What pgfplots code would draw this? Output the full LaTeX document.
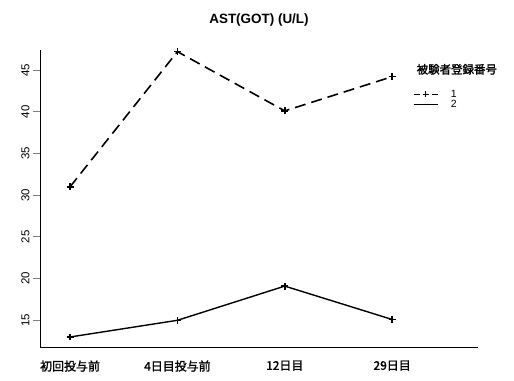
\documentclass[border=0pt]{standalone}
\usepackage{fontspec}
\setmainfont{Liberation Sans}
\newfontfamily\jp{Noto Sans CJK JP}[FakeBold=1.5]
\usepackage{pgfplots}
\pgfplotsset{compat=1.18}

\begin{document}
\begin{tikzpicture}[x=1bp,y=1bp]
\path[use as bounding box] (0,0) rectangle (514,380);
\begin{axis}[
  at={(40bp,33bp)}, anchor=south west,
  scale only axis, width=438bp, height=297bp,
  axis lines=left, axis line style={-, line width=1pt},
  xmin=-0.28, xmax=3.8, ymin=11.8, ymax=47.4,
  xtick={0,1,2,3},
  xticklabels={初回投与前,4日目投与前,12日目,29日目},
  xticklabel style={font=\jp\fontsize{12}{13}\selectfont, yshift=-3bp},
  xtick style={draw=none},
  ytick={15,20,25,30,35,40,45},
  yticklabel style={rotate=90, anchor=south, font=\fontsize{11.5}{12}\selectfont},
  /pgf/number format/assume math mode=true,
  tick align=outside, major tick length=7bp,
  ytick style={line width=0.8pt},
  title={\bfseries AST(GOT) (U/L)},
  title style={font=\fontsize{13.5}{15}\selectfont, yshift=14bp},
  clip=false,
  legend style={at={(0.845,0.875)}, anchor=north west, draw=none, fill=none,
    row sep=0pt, nodes={inner sep=0.8pt}},
  legend cell align=left,
]
\addplot[black, line width=1.6pt, dash pattern=on 11bp off 6bp,
  mark=+, mark size=3.5pt, mark options={solid, line width=1.6pt},
  legend image code/.code={
    \draw[black, line width=0.8pt, dash pattern=on 6bp off 3bp] (0bp,0bp) -- (24bp,0bp);
    \draw[black, line width=1pt] (12bp,-3bp) -- (12bp,3bp);
  }]
  coordinates {(0,31.0) (1,47.2) (2,40.1) (3,44.2)};
\addlegendentry{\hspace{12bp}\fontsize{10.5}{11}\selectfont 1}
\addplot[black, line width=1.4pt,
  mark=+, mark size=3.5pt, mark options={solid, line width=1.6pt},
  legend image code/.code={
    \draw[black, line width=0.8pt] (0bp,0bp) -- (24bp,0bp);
  }]
  coordinates {(0,13.0) (1,15.0) (2,19.1) (3,15.1)};
\addlegendentry{\hspace{12bp}\fontsize{10.5}{11}\selectfont 2}
\node[anchor=west, font=\jp\fontsize{11.5}{12}\selectfont]
  at (rel axis cs:0.852,0.935) {被験者登録番号};
\end{axis}
\end{tikzpicture}
\end{document}
